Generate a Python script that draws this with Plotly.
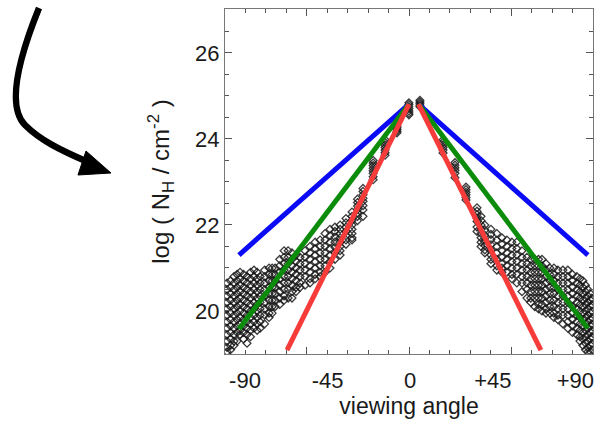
import plotly.graph_objects as go

# ---------------- data ----------------
left_angles = [-99.8, -97.9, -96.0, -94.3, -92.7, -90.8, -88.9, -87.0, -85.1, -83.4,
               -81.8, -79.3, -76.9, -75.2, -73.6, -71.1, -68.7, -66.5, -64.4, -62.2,
               -60.0, -57.3, -54.6, -51.8, -49.1, -46.4, -43.7, -41.0, -38.2, -35.0,
               -31.7, -28.7, -25.7, -20.2, -13.7, -7.2, -0.7]
left_nh = [
    [20.65, 20.5, 20.35, 20.2, 20.05, 19.9, 19.75, 19.6, 19.45, 19.3, 19.15, 19.05],
    [20.7, 20.55, 20.4, 20.25, 20.1, 19.95, 19.8, 19.65, 19.5, 19.35, 19.2, 19.1],
    [20.8, 20.65, 20.5, 20.35, 20.2, 20.05, 19.9, 19.75, 19.6, 19.45, 19.3, 19.2],
    [20.85, 20.7, 20.55, 20.4, 20.25, 20.1, 19.95, 19.8, 19.65, 19.5, 19.3],
    [20.9, 20.75, 20.6, 20.45, 20.3, 20.15, 20.0, 19.85, 19.7, 19.55, 19.45],
    [20.85, 20.7, 20.55, 20.4, 20.25, 20.1, 19.95, 19.8, 19.65, 19.5, 19.35],
    [20.8, 20.65, 20.5, 20.35, 20.2, 20.05, 19.9, 19.75, 19.6, 19.45, 19.25],
    [20.9, 20.75, 20.6, 20.45, 20.3, 20.15, 20.0, 19.85, 19.7, 19.55, 19.4],
    [20.95, 20.8, 20.65, 20.5, 20.35, 20.2, 20.05, 19.9, 19.75, 19.6],
    [20.9, 20.75, 20.6, 20.45, 20.3, 20.15, 20.0, 19.85, 19.7, 19.55],
    [20.8, 20.65, 20.5, 20.35, 20.2, 20.05, 19.9, 19.75, 19.6],
    [20.95, 20.8, 20.65, 20.5, 20.35, 20.2, 20.05, 19.9, 19.7],
    [21.0, 20.85, 20.7, 20.55, 20.4, 20.25, 20.1, 19.95, 19.85],
    [21.0, 20.85, 20.7, 20.55, 20.4, 20.25, 20.1, 19.95],
    [21.0, 20.85, 20.7, 20.55, 20.4, 20.25, 20.1],
    [21.2, 21.05, 20.9, 20.75, 20.6, 20.45, 20.3, 20.15],
    [21.4, 21.25, 21.1, 20.95, 20.8, 20.65, 20.5, 20.35, 20.25],
    [21.4, 21.25, 21.1, 20.95, 20.8, 20.65, 20.5, 20.3],
    [21.35, 21.2, 21.05, 20.9, 20.75, 20.6, 20.45, 20.3],
    [21.3, 21.15, 21.0, 20.85, 20.7, 20.55, 20.45],
    [21.25, 21.1, 20.95, 20.8, 20.65, 20.55],
    [21.4, 21.25, 21.1, 20.95, 20.8, 20.6],
    [21.5, 21.35, 21.2, 21.05, 20.9, 20.75, 20.65],
    [21.6, 21.45, 21.3, 21.15, 21.0, 20.85, 20.75],
    [21.65, 21.5, 21.35, 21.2, 21.05, 20.9, 20.8],
    [21.8, 21.65, 21.5, 21.35, 21.2, 21.05, 20.9],
    [21.9, 21.75, 21.6, 21.45, 21.3, 21.15, 21.0],
    [21.95, 21.85, 21.72, 21.6, 21.48, 21.35, 21.2],
    [22.0, 21.9, 21.8, 21.7, 21.6, 21.5, 21.4, 21.3],
    [22.15, 22.05, 21.95, 21.85, 21.75, 21.65, 21.55],
    [22.3, 22.2, 22.1, 22.0, 21.9, 21.8, 21.7, 21.65],
    [22.6, 22.52, 22.44, 22.36, 22.28, 22.2, 22.1],
    [22.85, 22.78, 22.7, 22.62, 22.55, 22.45, 22.35, 22.2],
    [23.5, 23.44, 23.38, 23.32, 23.26, 23.2, 23.12, 23.05],
    [23.98, 23.92, 23.86, 23.8, 23.74, 23.68, 23.62],
    [24.3, 24.26, 24.22, 24.18, 24.14],
    [24.84, 24.8, 24.75, 24.7, 24.65, 24.6, 24.56],
]
right_angles = [5.3, 17.9, 24.4, 30.4, 36.4, 38.6, 40.7, 44.0, 47.2, 50.0,
                52.7, 55.4, 58.1, 60.9, 63.6, 65.7, 67.9, 69.9, 71.8, 74.0,
                76.1, 78.3, 80.5, 83.2, 85.9, 88.4, 90.8, 92.5, 94.1, 95.5,
                96.8, 98.3, 99.0]
right_nh = [
    [24.9, 24.86, 24.82, 24.78, 24.75],
    [23.98, 23.92, 23.86, 23.8, 23.74, 23.67],
    [23.45, 23.39, 23.33, 23.27, 23.2, 23.1],
    [22.88, 22.82, 22.76, 22.7, 22.64, 22.58],
    [22.4, 22.32, 22.24, 22.16, 22.08, 21.95, 21.85],
    [22.2, 22.1, 22.0, 21.9, 21.8, 21.7, 21.6, 21.5],
    [22.0, 21.88, 21.76, 21.64, 21.52, 21.42, 21.35],
    [21.9, 21.78, 21.66, 21.54, 21.42, 21.3, 21.2, 21.1],
    [21.8, 21.65, 21.5, 21.35, 21.2, 21.05, 20.95],
    [21.7, 21.55, 21.4, 21.25, 21.1, 21.0, 20.9],
    [21.65, 21.5, 21.35, 21.2, 21.05, 20.9],
    [21.6, 21.45, 21.3, 21.15, 21.0, 20.85, 20.75],
    [21.6, 21.45, 21.3, 21.15, 21.0, 20.85, 20.65],
    [21.4, 21.25, 21.1, 20.95, 20.8, 20.65, 20.45],
    [21.25, 21.1, 20.95, 20.8, 20.65, 20.5, 20.3],
    [21.2, 21.05, 20.9, 20.75, 20.6, 20.45, 20.3, 20.2],
    [21.2, 21.05, 20.9, 20.75, 20.6, 20.45, 20.3, 20.1],
    [21.2, 21.05, 20.9, 20.75, 20.6, 20.45, 20.3, 20.15, 20.05],
    [21.2, 21.05, 20.9, 20.75, 20.6, 20.45, 20.3, 20.15, 20.0],
    [21.1, 20.95, 20.8, 20.65, 20.5, 20.35, 20.2, 20.05, 19.95],
    [21.0, 20.85, 20.7, 20.55, 20.4, 20.25, 20.1, 19.95],
    [21.0, 20.85, 20.7, 20.55, 20.4, 20.25, 20.1, 19.95, 19.85],
    [20.95, 20.8, 20.65, 20.5, 20.35, 20.2, 20.05, 19.9, 19.8],
    [20.95, 20.8, 20.65, 20.5, 20.35, 20.2, 20.05, 19.9, 19.7],
    [20.95, 20.8, 20.65, 20.5, 20.35, 20.2, 20.05, 19.9, 19.75, 19.6],
    [20.85, 20.7, 20.55, 20.4, 20.25, 20.1, 19.95, 19.8, 19.65, 19.5],
    [20.8, 20.65, 20.5, 20.35, 20.2, 20.05, 19.9, 19.75, 19.6, 19.45],
    [20.75, 20.6, 20.45, 20.3, 20.15, 20.0, 19.85, 19.7, 19.55, 19.4, 19.3],
    [20.7, 20.55, 20.4, 20.25, 20.1, 19.95, 19.8, 19.65, 19.5, 19.35, 19.2],
    [20.6, 20.45, 20.3, 20.15, 20.0, 19.85, 19.7, 19.55, 19.4, 19.25, 19.1],
    [20.5, 20.35, 20.2, 20.05, 19.9, 19.75, 19.6, 19.45, 19.3, 19.15, 19.05],
    [20.4, 20.25, 20.1, 19.95, 19.8, 19.65, 19.5, 19.35, 19.2, 19.05],
    [20.3, 20.15, 20.0, 19.85, 19.7, 19.55, 19.4, 19.25, 19.1],
]

blue_x = [-93.3, -0.65, None, 4.5, 96.8]
blue_y = [21.3, 24.81, None, 24.81, 21.3]
green_x = [-93.3, -0.65, None, 4.5, 96.8]
green_y = [19.58, 24.81, None, 24.81, 19.6]
red_x = [-67.1, -0.65, None, 4.5, 71.2]
red_y = [19.09, 24.81, None, 24.81, 19.09]

x_tick_vals = [-90, -45, 0, 45, 90]
x_tick_text = ["-90", "-45", "0", "+45", "+90"]
y_tick_vals = [20, 22, 24, 26]
x_title = "viewing angle"
y_title = "log ( N<sub>H</sub> / cm<sup>-2</sup> )"

# ---------------- figure ----------------
W, H = 604, 422
ML, MR, MT, MB = 225, 11, 9, 68
PW, PH = W - ML - MR, H - MT - MB


def px(xp, yp):
    return (xp - ML) / PW, (H - MB - yp) / PH


pts_x, pts_y = [], []
for a, vals in zip(left_angles + right_angles, left_nh + right_nh):
    for v in vals:
        pts_x.append(a)
        pts_y.append(v)

fig = go.Figure()
fig.add_trace(go.Scatter(
    x=pts_x, y=pts_y, mode="markers",
    marker=dict(symbol="diamond-open", size=6, color="rgba(25,25,25,0.85)",
                line=dict(width=1.3)),
    showlegend=False, hoverinfo="skip"))
for xs, ys, c in [(blue_x, blue_y, "#0a0af5"), (green_x, green_y, "#0b8c0b"),
                  (red_x, red_y, "#f63b3b")]:
    fig.add_trace(go.Scatter(x=xs, y=ys, mode="lines",
                             line=dict(color=c, width=5),
                             showlegend=False, hoverinfo="skip"))
fig.add_trace(go.Scatter(x=[None], y=[None], xaxis="x2", showlegend=False,
                         hoverinfo="skip"))

# curved arrow in pixel coordinates converted to paper coords
def pt(xp, yp):
    a, b = px(xp, yp)
    return f"{a:.4f},{b:.4f}"

curve = (f"M {pt(39, 8)} C {pt(22, 50)} {pt(5, 105)} {pt(25, 125)} "
         f"C {pt(40, 140)} {pt(60, 150)} {pt(88, 162)}")
head = f"M {pt(111, 173)} L {pt(86, 151)} L {pt(78, 175)} Z"

fig.add_shape(type="path", path=curve, xref="paper", yref="paper",
              line=dict(color="black", width=6.5), layer="above")
fig.add_shape(type="path", path=head, xref="paper", yref="paper",
              line=dict(color="black", width=1), fillcolor="black", layer="above")

font = "Liberation Sans, Arial, sans-serif"
axcol = "#777777"
tkcol = "#555555"
xr = [-100.9, 99.6]
fig.update_layout(
    width=W, height=H, margin=dict(l=ML, r=MR, t=MT, b=MB),
    paper_bgcolor="white", plot_bgcolor="white",
    font=dict(family=font, color="#1a1a1a"),
    xaxis=dict(range=xr, tickvals=x_tick_vals, ticktext=x_tick_text, ticks="",
               ticklabelstandoff=7,
               showline=True, linecolor=axcol, linewidth=1, mirror=True,
               showgrid=False, zeroline=False, tickfont=dict(size=22),
               title=dict(text=x_title, font=dict(size=23), standoff=3)),
    xaxis2=dict(range=xr, overlaying="x", anchor="y", side="bottom",
                tickmode="linear", tick0=-0.65, dtick=55.8, ticks="inside",
                ticklen=7, tickwidth=1, tickcolor=tkcol, showticklabels=False,
                mirror="ticks", showline=True, linecolor=axcol,
                showgrid=False, zeroline=False,
                minor=dict(dtick=11.16, tick0=-0.65, ticks="inside", ticklen=4,
                           tickwidth=1, tickcolor=tkcol)),
    yaxis=dict(range=[19.0, 27.02], tickvals=y_tick_vals, ticks="inside",
               ticklen=7, tickwidth=1, tickcolor=tkcol, showline=True,
               linecolor=axcol, linewidth=1, mirror="ticks", showgrid=False,
               zeroline=False, tickfont=dict(size=22),
               minor=dict(tick0=19, dtick=0.5, ticks="inside", ticklen=4,
                          tickwidth=1, tickcolor=tkcol),
               title=dict(text=y_title, font=dict(size=24), standoff=18)),
)

fig.write_html("out.html")
